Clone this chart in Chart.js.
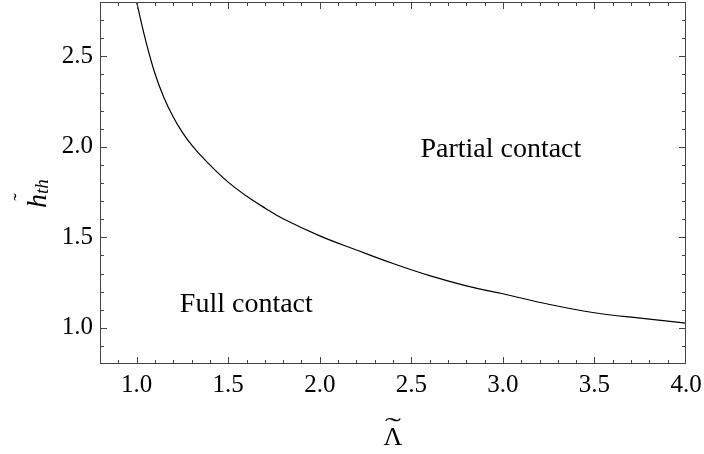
<!DOCTYPE html>
<html>
<head>
<meta charset="utf-8">
<script src="https://cdn.jsdelivr.net/npm/chart.js@4.4.0/dist/chart.umd.min.js"></script>
<style>
html,body{margin:0;padding:0;background:#fff;}
#wrap{width:704px;height:454px;position:relative;}
</style>
</head>
<body>
<div id="wrap"><canvas id="c" width="704" height="454"></canvas></div>
<script>
const lambdaVals = [1.0, 1.05, 1.1, 1.15, 1.2, 1.25, 1.3, 1.35, 1.4, 1.5, 1.6, 1.7, 1.8, 2.0, 2.2, 2.4, 2.6, 2.8, 3.0, 3.25, 3.5, 3.75, 4.0];
const hthVals    = [2.80, 2.585, 2.405, 2.27, 2.165, 2.08, 2.01, 1.953, 1.90, 1.805, 1.728, 1.662, 1.602, 1.508, 1.43, 1.355, 1.288, 1.232, 1.188, 1.13, 1.083, 1.053, 1.026];
const xTickVals = [1.0, 1.5, 2.0, 2.5, 3.0, 3.5, 4.0];
const yTickVals = [1.0, 1.5, 2.0, 2.5];
const regionLabels = ["Partial contact", "Full contact"];
const regionX = [2.989, 1.599];
const regionY = [1.945, 1.09];

const SERIF = '"Liberation Serif", "DejaVu Serif", serif';
const points = lambdaVals.map((x, i) => ({x: x, y: hthVals[i]}));

const framePlugin = {
  id: 'frame',
  afterDraw(chart) {
    const ctx = chart.ctx;
    const a = chart.chartArea;
    const xs = chart.scales.x, ys = chart.scales.y;
    ctx.save();
    ctx.strokeStyle = '#444';
    ctx.lineWidth = 1;
    ctx.strokeRect(a.left + 0.5, a.top + 0.5, a.right - a.left - 1, a.bottom - a.top - 1);
    ctx.beginPath();
    for (let k = 8; k <= 40; k++) {
      const v = k / 10;
      const major = (k % 5 === 0);
      const len = major ? 7 : 4;
      const px = Math.round(xs.getPixelForValue(v)) + 0.5;
      if (px > a.left + 1 && px < a.right - 1) {
        ctx.moveTo(px, a.bottom); ctx.lineTo(px, a.bottom - len);
        ctx.moveTo(px, a.top); ctx.lineTo(px, a.top + len);
      }
    }
    for (let k = 8; k <= 28; k++) {
      const v = k / 10;
      const major = (k % 5 === 0);
      const len = major ? 7 : 4;
      const py = Math.round(ys.getPixelForValue(v)) + 0.5;
      if (py > a.top + 1 && py < a.bottom - 1) {
        ctx.moveTo(a.left, py); ctx.lineTo(a.left + len, py);
        ctx.moveTo(a.right, py); ctx.lineTo(a.right - len, py);
      }
    }
    ctx.stroke();

    // region labels
    ctx.fillStyle = '#000';
    ctx.font = '28px ' + SERIF;
    ctx.textAlign = 'center';
    ctx.textBaseline = 'alphabetic';
    regionLabels.forEach((t, i) => {
      ctx.fillText(t, xs.getPixelForValue(regionX[i]), ys.getPixelForValue(regionY[i]));
    });

    // x title: Lambda with tilde
    ctx.font = '26px ' + SERIF;
    ctx.fillText('Λ', 393, 445);
    ctx.save();
    ctx.translate(393, 434);
    ctx.scale(2.0, 1);
    ctx.font = '24px ' + SERIF;
    ctx.fillText('˜', 0, 0);
    ctx.restore();

    // y title: h~_th rotated
    ctx.translate(46, 190);
    ctx.rotate(-Math.PI / 2);
    ctx.textAlign = 'left';
    ctx.font = 'italic 28px ' + SERIF;
    ctx.fillText('h', -18, 0);
    ctx.textAlign = 'center';
    ctx.font = '22px ' + SERIF;
    ctx.fillText('˜', -7, -18);
    ctx.textAlign = 'left';
    ctx.font = 'italic 19px ' + SERIF;
    ctx.fillText('th', -4, 2);
    ctx.restore();
  }
};

new Chart(document.getElementById('c'), {
  type: 'scatter',
  data: {
    datasets: [{
      data: points,
      showLine: true,
      borderColor: '#000',
      borderWidth: 1.2,
      pointRadius: 0,
      fill: false,
      tension: 0.4
    }]
  },
  options: {
    responsive: false,
    animation: false,
    layout: {padding: {top: 2, right: 18, left: 0, bottom: 0}},
    plugins: {legend: {display: false}, tooltip: {enabled: false}},
    scales: {
      x: {
        type: 'linear', min: 0.8, max: 4.0,
        afterBuildTicks(s) { s.ticks = xTickVals.map(v => ({value: v})); },
        afterFit(s) { s.height = 90; s.paddingLeft = 0; s.paddingRight = 0; },
        grid: {display: false, drawTicks: false},
        border: {display: false},
        ticks: {
          padding: 6, color: '#000', font: {family: SERIF, size: 25},
          maxRotation: 0, autoSkip: false,
          callback: v => Number(v).toFixed(1)
        }
      },
      y: {
        type: 'linear', min: 0.8, max: 2.8,
        afterBuildTicks(s) { s.ticks = yTickVals.map(v => ({value: v})); },
        afterFit(s) { s.width = 100; s.paddingTop = 0; s.paddingBottom = 0; },
        grid: {display: false, drawTicks: false},
        border: {display: false},
        ticks: {
          padding: 7, color: '#000', font: {family: SERIF, size: 25},
          autoSkip: false,
          callback: v => Number(v).toFixed(1)
        }
      }
    }
  },
  plugins: [framePlugin]
});
</script>
</body>
</html>
